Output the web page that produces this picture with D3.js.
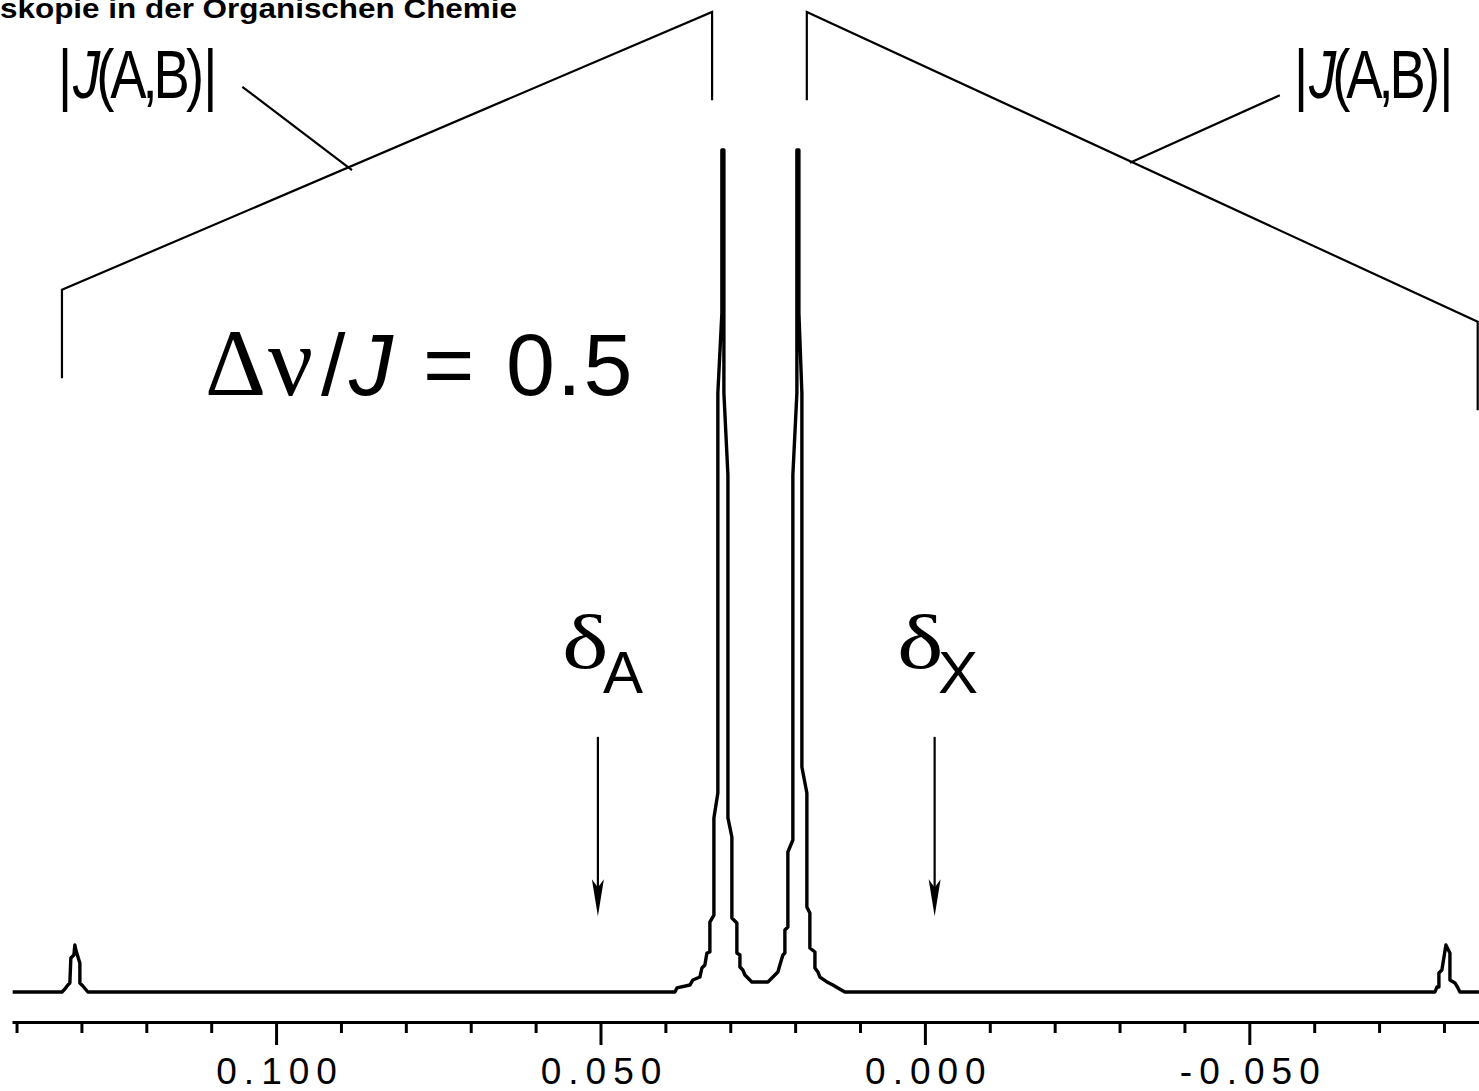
<!DOCTYPE html>
<meta charset="utf-8">
<style>
body { margin: 0; background: #fff; }
.spec { fill: none; stroke: #000; stroke-width: 3.4; stroke-linejoin: round; }
.anno { fill: none; stroke: #000; stroke-width: 2.2; }
.axis path, .axis line { stroke: #000; stroke-width: 3; }
.axis text { font-family: "Liberation Sans", Arial, sans-serif; font-size: 37px; letter-spacing: 7px; fill: #000; }
</style>
<div id="chart"></div>
<script src="https://d3js.org/d3.v7.min.js"></script>
<script>

// spectrum (ppm, intensity in % of plot height)
var ppm = [0.1406, 0.1330, 0.13255, 0.13209, 0.13178, 0.13163, 0.13116, 0.13101, 0.13086, 0.13039, 0.13024, 0.13024, 0.12978, 0.12901,
  0.03853, 0.03822, 0.03622, 0.03576, 0.03468, 0.03437, 0.03391, 0.03360, 0.03314, 0.03314, 0.03252, 0.03252, 0.03191, 0.03191, 0.03129, 0.03129,
  0.03098, 0.03098, 0.03036, 0.03036, 0.02975, 0.02975, 0.02898, 0.02898, 0.02851, 0.02851, 0.02805, 0.02774, 0.02728, 0.02667,
  0.02420, 0.02358, 0.02312, 0.02266, 0.02235, 0.02189, 0.02158, 0.02158, 0.02112, 0.02112, 0.02035, 0.02035, 0.01973, 0.01973,
  0.01942, 0.01942, 0.01896, 0.01896, 0.01819, 0.01819, 0.01773, 0.01773, 0.01695, 0.01695, 0.01649, 0.01618, 0.01510, 0.01418, 0.01341, 0.01233,
  -0.07861, -0.07891, -0.07922, -0.07922, -0.07968, -0.08030, -0.08092, -0.08092, -0.08169, -0.08215, -0.08246, -0.08539];
var intensity = [0, 0, 0.36, 0.83, 1.07, 4.04, 4.39, 5.58, 4.99, 3.80, 3.44, 1.07, 0.71, 0,
  0, 0.48, 0.83, 1.43, 1.78, 2.85, 3.21, 4.63, 4.75, 8.31, 9.14, 20.67, 23.63, 71.14, 80.64, 100,
  100, 71.14, 61.40, 20.67, 18.41, 8.79, 8.19, 4.63, 4.39, 2.97, 2.61, 2.02, 1.66, 1.19,
  1.19, 1.66, 2.02, 2.38, 3.21, 4.39, 4.63, 7.36, 7.72, 16.63, 18.05, 61.40, 71.14, 100,
  100, 80.64, 71.14, 26.72, 23.63, 10.10, 9.38, 5.23, 4.75, 2.85, 2.38, 1.78, 1.19, 0.83, 0.48, 0,
  0, 0.59, 0.59, 2.26, 2.61, 5.58, 4.63, 1.43, 1.07, 0.48, 0, 0];

var majorTicks = [0.1, 0.05, 0, -0.05];
var tickLabels = ["0.100", "0.050", "0.000", "-0.050"];
var minorTicks = [0.14, 0.13, 0.12, 0.11, 0.09, 0.08, 0.07, 0.06, 0.04, 0.03, 0.02, 0.01, -0.01, -0.02, -0.03, -0.04, -0.06, -0.07, -0.08];

// annotation lines (ppm, intensity)
var bracketLeft = [[0.1330, 72.9], [0.1330, 83.4], [0.0328, 116.4], [0.0328, 105.9]];
var bracketRight = [[0.0182, 105.9], [0.0182, 116.4], [-0.0852, 79.6], [-0.0852, 69.1]];
var leaders = [[[0.1052, 107.5], [0.0883, 97.6]], [[-0.0547, 106.5], [-0.0316, 98.5]]];
var shiftArrows = [0.0504, -0.0015];

var svg = d3.select("#chart").append("svg")
    .attr("width", 1479)
    .attr("height", 1091);

var x = d3.scaleLinear().domain([0.1407, -0.0854]).range([12, 1479]);
var y = d3.scaleLinear().domain([0, 100]).range([992, 150]);

var line = d3.line()
    .x(function(d) { return x(d[0]); })
    .y(function(d) { return y(d[1]); });

svg.append("path")
    .attr("class", "spec")
    .attr("d", line(ppm.map(function(p, i) { return [p, intensity[i]]; })));

svg.append("path").attr("class", "anno").attr("d", line(bracketLeft));
svg.append("path").attr("class", "anno").attr("d", line(bracketRight));
leaders.forEach(function(l) {
  svg.append("path").attr("class", "anno").attr("d", line(l));
});

shiftArrows.forEach(function(p) {
  var xa = x(p);
  svg.append("line")
      .attr("x1", xa).attr("x2", xa)
      .attr("y1", y(30.3)).attr("y2", y(11))
      .attr("stroke", "#000").attr("stroke-width", 2.2);
  svg.append("path")
      .attr("d", "M" + xa + "," + y(9.0) + "L" + (xa - 6) + "," + y(13.4) + "L" + xa + "," + y(12.4) + "L" + (xa + 6) + "," + y(13.4) + "Z")
      .attr("fill", "#000");
});

// axis
var axisY = 1022;
svg.append("g")
    .attr("class", "axis")
    .attr("transform", "translate(0," + axisY + ")")
    .call(d3.axisBottom(x).tickValues(minorTicks).tickSize(11).tickSizeOuter(0).tickFormat(""));

svg.append("g")
    .attr("class", "axis")
    .attr("transform", "translate(0," + axisY + ")")
    .call(d3.axisBottom(x).tickValues(majorTicks).tickSize(23).tickSizeOuter(0).tickPadding(13)
      .tickFormat(function(d, i) { return tickLabels[i]; }))
    .call(function(g) { g.select(".domain").remove(); })
    .selectAll("text").attr("dx", "3.5px");

// texts
var sans = "'Liberation Sans', Arial, sans-serif",
    serif = "'Liberation Serif', 'Times New Roman', serif";

svg.append("text")
    .attr("x", 0).attr("y", 18)
    .attr("textLength", 517).attr("lengthAdjust", "spacingAndGlyphs")
    .style("font", "bold 27px " + sans)
    .text("skopie in der Organischen Chemie");

function jLabel(x0) {
  var g = svg.append("g").attr("transform", "translate(" + x0 + ",98) scale(0.8,1)");
  var t = g.append("text").style("font-family", sans).style("font-size", "68px").style("letter-spacing", "-5px");
  t.append("tspan").text("|");
  t.append("tspan").style("font-style", "italic").attr("dx", 6).text("J");
  t.append("tspan").text("(A,B)");
  t.append("tspan").attr("dx", 4).text("|");
}
jLabel(58);
jLabel(1294);

var ratio = svg.append("text").attr("y", 395).style("font-family", sans).style("font-size", "88px");
ratio.append("tspan").attr("x", 205).style("font-family", serif).style("font-size", "95px").text("\u0394");
ratio.append("tspan").attr("x", 268).style("font-family", serif).style("font-size", "100px").text("\u03bd");
ratio.append("tspan").attr("x", 321).text("/");
ratio.append("tspan").attr("x", 349).style("font-style", "italic").text("J");
ratio.append("tspan").attr("x", 423).text("=");
ratio.append("tspan").attr("x", 506).style("letter-spacing", "2px").text("0.5");

function shiftLabel(x0, sub) {
  svg.append("text")
      .attr("transform", "translate(" + x0 + ",668) scale(1.3,1)")
      .style("font-family", serif).style("font-size", "76px")
      .text("\u03b4");
  svg.append("text")
      .attr("x", x0 + 41).attr("y", 693)
      .style("font-family", sans).style("font-size", "60px")
      .text(sub);
}
shiftLabel(562, "A");
shiftLabel(897, "X");

</script>
